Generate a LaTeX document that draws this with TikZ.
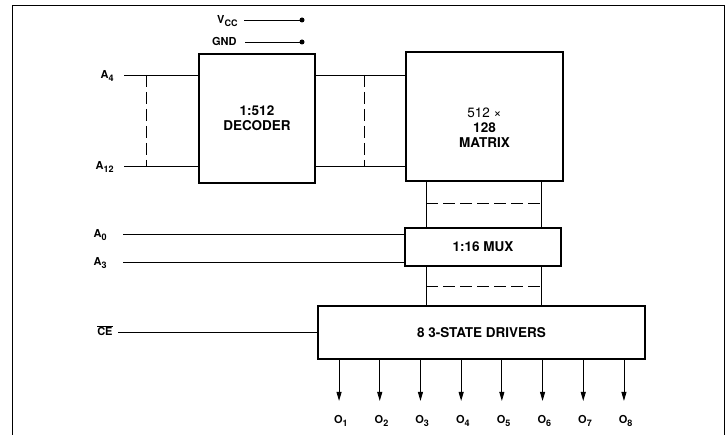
\documentclass[tikz,border=0pt]{standalone}
\usepackage{fontspec}
\setmainfont{TeX Gyre Heros}
\usetikzlibrary{
  calc,
  positioning,
  arrows.meta}

\newcommand{\pinsub}[1]{\raisebox{-3pt}{\fontsize{9}{10}\selectfont #1}}

\begin{document}
\begin{tikzpicture}[
  x=1pt,y=-1pt,
  >={Triangle[length=9pt,width=5pt]},
  line width=0.9pt,
  blk/.style={draw,line width=1.9pt,inner sep=0pt,align=center,font=\fontsize{13.5}{15}\selectfont\bfseries},
  pin/.style={inner sep=0pt,anchor=east,text height=7.5pt,text depth=0pt,font=\fontsize{11}{12}\selectfont\bfseries},
  bus/.style={dash pattern=on 12pt off 5pt}
]%
  \useasboundingbox (0,0) rectangle (726,435);
  \draw (12,435) -- (12,5) -- (724,5) -- (724,435);

  \node[blk,minimum width=116,minimum height=129] (dec) at (257,118.5) {1:512\\DECODER};
  \node[blk,minimum width=157,minimum height=129] (mat) at (484.5,116.5) {};
  \node[align=center,inner sep=0pt,font=\fontsize{13.5}{15}\selectfont\bfseries] (matT) at ($(mat.center)+(0,11)$) {{\mdseries 512 ×}\\128\\MATRIX};
  \node[blk,minimum width=156,minimum height=38] (mux) at (483,247) {1:16 MUX};
  \node[blk,minimum width=327,minimum height=53] (drv) at (481.5,332.5) {8 3-STATE DRIVERS};

  \node[pin] (vcc) at (238,20) {V\pinsub{CC}};
  \node[pin] (gnd) at (237,42) {GND};
  \node[pin] (a4)  at (114,75) {A\pinsub{4}};
  \node[pin] (a12) at (114,166) {A\pinsub{12}};
  \node[pin] (a0)  at (107,234) {A\pinsub{0}};
  \node[pin] (a3)  at (107,262) {A\pinsub{3}};
  \node[pin] (ce)  at (113,332) {$\overline{\mbox{CE}}$};

  \coordinate (vccEnd) at (302,20);
  \coordinate (gndEnd) at (302,42);
  \draw ([xshift=6pt]vcc.east) -- (vccEnd);
  \draw ([xshift=8pt]gnd.east) -- (gndEnd);
  \fill (vccEnd) circle (2.5pt);
  \fill (gndEnd) circle (2.5pt);

  \draw ([xshift=10pt]a4.east) -- (a4 -| dec.west);
  \draw ([xshift=10pt]a12.east) -- (a12 -| dec.west);
  \draw[bus] ([xshift=32pt]a4.east) -- ([xshift=32pt]a4.east |- a12);
  \draw (a4 -| dec.east) -- (a4 -| mat.west);
  \draw (a12 -| dec.east) -- (a12 -| mat.west);
  \draw[bus] ([xshift=48pt]a4 -| dec.east) -- ([xshift=48pt]a12 -| dec.east);

  \draw ([xshift=16pt]a0.east) -- (a0 -| mux.west);
  \draw ([xshift=16pt]a3.east) -- (a3 -| mux.west);
  \draw ([xshift=5pt]ce.east) -- (ce -| drv.west);

  \draw ([xshift=21pt]mat.south west) -- ([xshift=21pt]mat.south west |- mux.north);
  \draw ([xshift=-23pt]mat.south east) -- ([xshift=-23pt]mat.south east |- mux.north);
  \draw[bus] ($([xshift=21pt]mat.south west)!0.47!([xshift=21pt]mat.south west |- mux.north)$)
    -- ($([xshift=-23pt]mat.south east)!0.47!([xshift=-23pt]mat.south east |- mux.north)$);
  \draw ([xshift=21pt]mat.south west |- mux.south) -- ([xshift=21pt]mat.south west |- drv.north);
  \draw ([xshift=-23pt]mat.south east |- mux.south) -- ([xshift=-23pt]mat.south east |- drv.north);
  \draw[bus] ($([xshift=21pt]mat.south west |- mux.south)!0.5!([xshift=21pt]mat.south west |- drv.north)$)
    -- ($([xshift=-23pt]mat.south east |- mux.south)!0.5!([xshift=-23pt]mat.south east |- drv.north)$);

  \foreach \i in {1,...,8}{
    \path ([xshift={22pt+40.7pt*(\i-1)}]drv.south west) coordinate (d\i);
    \node[pin,anchor=west] (o\i) at ($(d\i)+(-5.5,60)$) {O\pinsub{\i}};
    \draw[->] (d\i) -- ($(d\i)+(0,41)$);
  }

\end{tikzpicture}
\end{document}
